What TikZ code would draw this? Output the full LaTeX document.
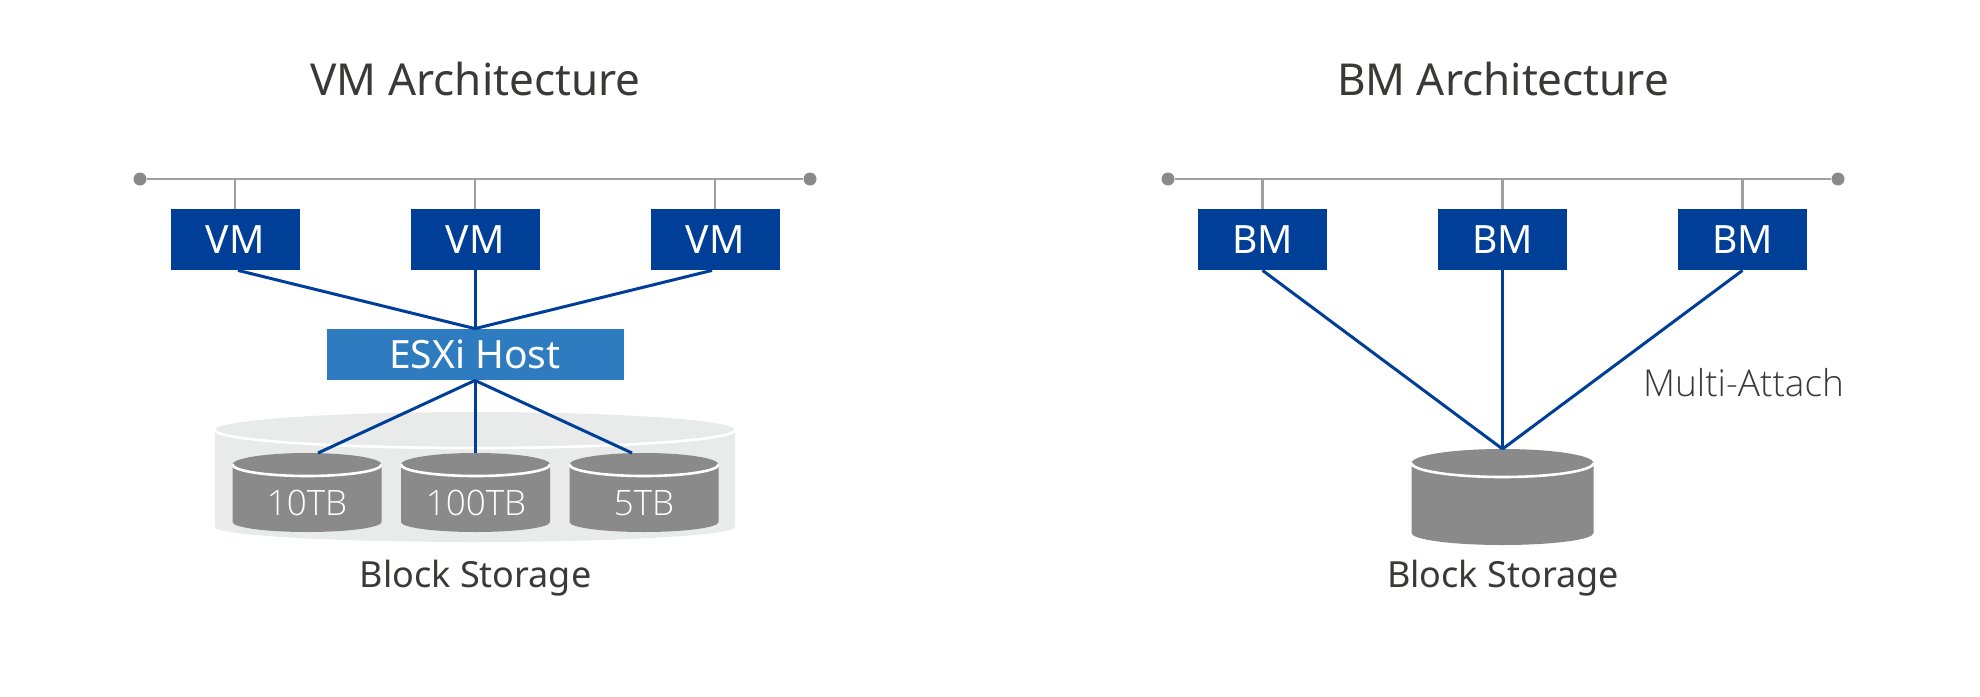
\documentclass[tikz,border=0pt]{standalone}
\usepackage{fontspec}
\setmainfont{Noto Sans}
\newfontfamily\thinfont{Open Sans Light}
\usetikzlibrary{positioning}
\definecolor{hostblue}{HTML}{003F98}
\definecolor{esxiblue}{HTML}{2F7BC0}
\definecolor{diskgray}{HTML}{8A8A8A}
\definecolor{poolgray}{HTML}{E9EBEB}
\definecolor{busgray}{HTML}{A0A0A0}
\definecolor{inkgray}{HTML}{3B3838}
\tikzset{
  hostbox/.style = {fill=hostblue, text=white, minimum width=64.5pt, minimum height=30.5pt, inner sep=0pt, font=\fontsize{19.5}{20}\selectfont},
  esxibox/.style = {fill=esxiblue, text=white, minimum width=148.5pt, minimum height=25.5pt, inner sep=0pt, font=\fontsize{19.5}{20}\selectfont},
  busdot/.style = {circle, fill=diskgray, minimum size=6.5pt, inner sep=0pt},
  busline/.style = {draw=busgray, line width=1.2pt},
  linkline/.style = {draw=hostblue, line width=1.5pt},
  titletext/.style = {text=inkgray, font=\fontsize{22}{24}\selectfont},
  labeltext/.style = {text=inkgray, font=\fontsize{18}{20}\selectfont},
  sizetext/.style = {text=white, font=\thinfont\fontsize{17.5}{20}\selectfont},
  pics/barrel/.style n args = {5}{code = {
    \fill[#1] (-#2,0) arc[start angle=180, end angle=0, x radius=#2, y radius=#3]
      -- (#2,-#5) arc[start angle=0, end angle=-180, x radius=#2, y radius=#4] -- cycle;
    \draw[white, line width=1.3pt] (-#2,0) arc[start angle=180, end angle=360, x radius=#2, y radius=#3];
  }}
}
\begin{document}
\begin{tikzpicture}[x=0.5pt, y=0.5pt, node distance = 120pt]
  \useasboundingbox (0,0) rectangle (1980,-696);
  % left side
  \node[titletext] (vmtitle) at (475.5,-79) {VM Architecture};
  \node[hostbox] (vm1) at (235,-239.5) {VM};
  \node[hostbox] (vm2) [right of = vm1] {VM};
  \node[hostbox] (vm3) [right of = vm2] {VM};
  \node[busdot] (vmbusl) at (140,-179) {};
  \node[busdot] (vmbusr) at (810,-179) {};
  \draw[busline] (vmbusl) -- (vmbusr);
  \foreach \n in {vm1, vm2, vm3}
    \draw[busline] (\n.north) -- (\n.north |- vmbusl);
  \node[esxibox] (esxi) at (475,-354.5) {ESXi Host};
  \pic at (475,-430) {barrel={poolgray}{260}{18}{15}{97}};
  \pic at (307,-464.5) {barrel={diskgray}{74.5}{11.5}{10}{57.5}};
  \pic at (475.5,-464.5) {barrel={diskgray}{74.5}{11.5}{10}{57.5}};
  \pic at (644,-464.5) {barrel={diskgray}{74.5}{11.5}{10}{57.5}};
  \coordinate (disk1) at (318,-453);
  \coordinate (disk2) at (475,-453);
  \coordinate (disk3) at (632,-453);
  \node[sizetext] (size1) at (307,-503) {10TB};
  \node[sizetext] (size2) at (476,-503) {100TB};
  \node[sizetext] (size3) at (644,-503) {5TB};
  \draw[linkline] ([xshift=1.5pt]vm1.south) -- (esxi.north);
  \draw[linkline] (vm2.south) -- (esxi.north);
  \draw[linkline] ([xshift=-1.5pt]vm3.south) -- (esxi.north);
  \foreach \n in {disk1, disk2, disk3}
    \draw[linkline] (esxi.south) -- (\n);
  \node[labeltext] (vmstore) at (475.5,-578) {Block Storage};
  % right side
  \node[titletext] (bmtitle) at (1503,-79) {BM Architecture};
  \node[hostbox] (bm1) at (1262.5,-239.5) {BM};
  \node[hostbox] (bm2) [right of = bm1] {BM};
  \node[hostbox] (bm3) [right of = bm2] {BM};
  \node[busdot] (bmbusl) at (1168,-179) {};
  \node[busdot] (bmbusr) at (1838,-179) {};
  \draw[busline] (bmbusl) -- (bmbusr);
  \foreach \n in {bm1, bm2, bm3}
    \draw[busline] (\n.north) -- (\n.north |- bmbusl);
  \pic at (1502.5,-463) {barrel={diskgray}{91}{14}{12}{70}};
  \coordinate (disk4) at (1502.5,-449);
  \foreach \n in {bm1, bm2, bm3}
    \draw[linkline] (\n.south) -- (disk4);
  \node[labeltext] (bmstore) at (1503,-578) {Block Storage};
  \node[labeltext, font=\thinfont\fontsize{18.5}{20}\selectfont] (attach) at (1743.5,-383) {Multi-Attach};
\end{tikzpicture}
\end{document}
